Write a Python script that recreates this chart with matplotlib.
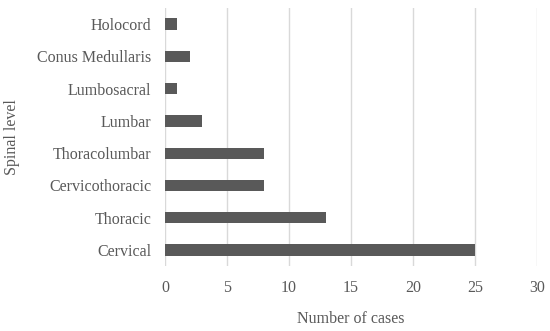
import matplotlib
matplotlib.use("Agg")
import matplotlib.pyplot as plt

categories = ["Cervical", "Thoracic", "Cervicothoracic", "Thoracolumbar",
              "Lumbar", "Lumbosacral", "Conus Medullaris", "Holocord"]
cases = [25, 13, 8, 8, 3, 1, 2, 1]
xticks = [0, 5, 10, 15, 20, 25, 30]

plt.rcParams['font.family'] = ['Liberation Serif', 'DejaVu Serif']
txt = '#595959'

fig = plt.figure(figsize=(5.5, 3.31), dpi=100)
ax = fig.add_axes([0.3, 0.196, 0.676, 0.78])
ax.barh(range(len(categories)), cases, height=0.35, color='#595959', zorder=3)
ax.set_yticks(range(len(categories)))
ax.set_yticklabels(categories, fontsize=11.5, color=txt)
ax.set_ylim(-0.5, len(categories) - 0.5)
ax.set_xlim(0, 30)
ax.set_xticks(xticks)
ax.set_xticklabels([str(t) for t in xticks], fontsize=11.5, color=txt)
ax.grid(axis='x', color='#d9d9d9', linewidth=1, zorder=0)
for s in ax.spines.values():
    s.set_visible(False)
ax.tick_params(axis='y', length=0, pad=10)
ax.tick_params(axis='x', length=0, pad=10)
ax.set_xlabel("Number of cases", fontsize=11.5, color=txt, labelpad=11)
ax.set_ylabel("Spinal level", fontsize=11.5, color=txt, labelpad=12)
fig.savefig("out.png", dpi=100)
